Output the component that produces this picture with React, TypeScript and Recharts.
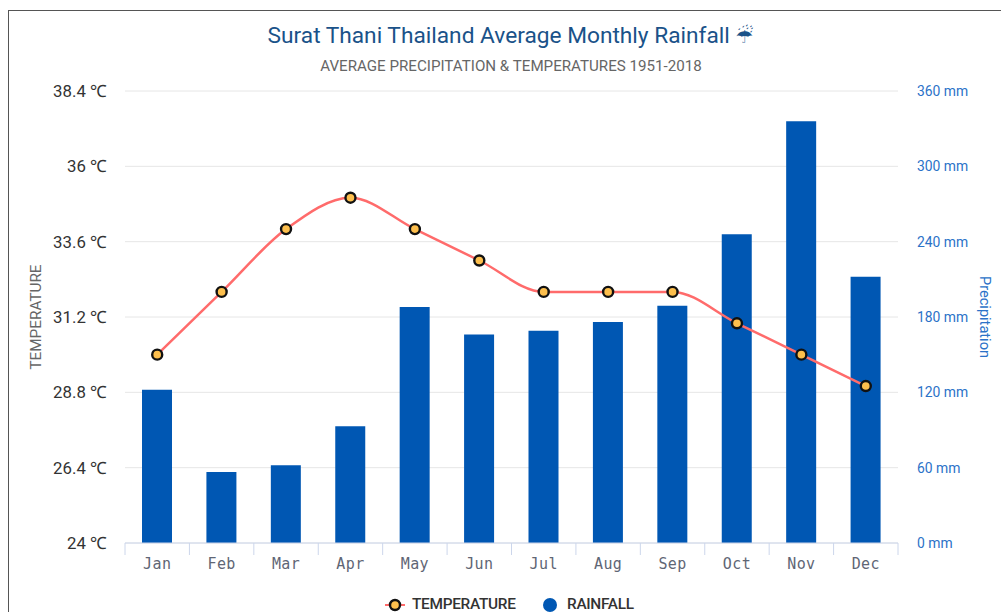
import React from 'react';
import { ComposedChart, Bar, Line, XAxis, YAxis, CartesianGrid } from 'recharts';

const months = ['Jan', 'Feb', 'Mar', 'Apr', 'May', 'Jun', 'Jul', 'Aug', 'Sep', 'Oct', 'Nov', 'Dec'];
const temperature = [30, 32, 34, 35, 34, 33, 32, 32, 32, 31, 30, 29];
const rainfall = [122, 56.5, 62, 93, 188, 166, 169, 176, 189, 246, 336, 212];
const tempTicks = [24, 26.4, 28.8, 31.2, 33.6, 36, 38.4];
const rainTicks = [0, 60, 120, 180, 240, 300, 360];

const data = months.map((month, i) => ({ month, temperature: temperature[i], rainfall: rainfall[i] }));

const BAND = 773 / 12;

// ticks sit on the band edges, not under the month label
const MonthTick = (props: any) => {
  const { x, index, payload } = props;
  const left = x - BAND / 2;
  return (
    <g>
      <line x1={left} x2={left} y1={543} y2={555} stroke="#ccd6eb" />
      {index === months.length - 1 && <line x1={left + BAND} x2={left + BAND} y1={543} y2={555} stroke="#ccd6eb" />}
      <text x={x} y={569} textAnchor="middle" fontFamily="'DejaVu Sans Mono'" fontSize={15} letterSpacing={0.4} fill="#5f6675">
        {payload.value}
      </text>
    </g>
  );
};

const LegendRow = () => (
  <div style={{ position: 'absolute', left: 0, top: 596, width: 1001, height: 16, fontFamily: 'Roboto', fontWeight: 500, fontSize: 15.4, lineHeight: '15px', color: '#333' }}>
    <svg width={30} height={16} style={{ position: 'absolute', left: 382, top: 0 }}>
      <line x1={3} x2={23} y1={9} y2={9} stroke="#ff6b6b" strokeWidth={2} />
      <circle cx={13} cy={9} r={5} fill="#fdbf4d" stroke="#111" strokeWidth={2.4} />
    </svg>
    <span style={{ position: 'absolute', left: 412, top: 1, letterSpacing: -0.3 }}>TEMPERATURE</span>
    <svg width={20} height={16} style={{ position: 'absolute', left: 541, top: 0 }}>
      <circle cx={9} cy={9} r={7} fill="#0057b3" />
    </svg>
    <span style={{ position: 'absolute', left: 567, top: 1, letterSpacing: -0.3 }}>RAINFALL</span>
  </div>
);

export default function App() {
  return (
    <div style={{ position: 'absolute', left: 0, top: 0, width: 1001, height: 612, overflow: 'hidden', background: '#fff' }}>
      {/* frame of the original page, only top and left show */}
      <div style={{ position: 'absolute', left: 8, top: 10, width: 1001, height: 612, borderTop: '1px solid #555', borderLeft: '1px solid #555' }} />
      <div style={{ position: 'absolute', left: 0, width: 1021, top: 22, textAlign: 'center', fontFamily: 'Roboto', fontSize: 22.7, color: '#1a5289', whiteSpace: 'nowrap' }}>
        Surat Thani Thailand Average Monthly Rainfall <span style={{ fontFamily: 'DejaVu Sans', fontSize: 20 }}>☔</span>
      </div>
      <div style={{ position: 'absolute', left: 0, width: 1022, top: 56.5, textAlign: 'center', fontFamily: 'Roboto', fontSize: 15.15, color: '#666', whiteSpace: 'nowrap' }}>
        AVERAGE PRECIPITATION &amp; TEMPERATURES 1951-2018
      </div>
      <ComposedChart width={1001} height={612} data={data} margin={{ top: 91, right: 0, bottom: 0, left: 0 }} style={{ position: 'absolute', left: 0, top: 0 }}>
        <CartesianGrid yAxisId="temp" vertical={false} stroke="#e6e6e6" />
        <XAxis dataKey="month" height={69} interval={0} tick={<MonthTick />} tickLine={false} axisLine={{ stroke: '#ccd6eb' }} />
        <YAxis
          yAxisId="temp"
          orientation="left"
          width={125}
          domain={[24, 38.4]}
          ticks={tempTicks}
          interval={0}
          axisLine={false}
          tickLine={false}
          tickMargin={12}
          tickFormatter={(v) => `${v} ℃`}
          tick={{ fontFamily: 'Roboto', fontSize: 16.8, fill: '#333' }}
          label={{ value: 'TEMPERATURE', angle: -90, position: 'insideLeft', offset: 36, style: { fontFamily: 'Roboto', fontSize: 15.3, fill: '#666', textAnchor: 'middle' } }}
        />
        <YAxis
          yAxisId="rain"
          orientation="right"
          width={103}
          domain={[0, 360]}
          ticks={rainTicks}
          interval={0}
          axisLine={false}
          tickLine={false}
          tickMargin={13}
          tickFormatter={(v) => `${v} mm`}
          tick={{ fontFamily: 'Roboto', fontSize: 13.9, fill: '#2b72c8' }}
          label={{ value: 'Precipitation', angle: 90, position: 'insideRight', offset: 16, style: { fontFamily: 'Roboto', fontSize: 14.6, fill: '#2b72c8', textAnchor: 'middle' } }}
        />
        <Bar yAxisId="rain" dataKey="rainfall" name="RAINFALL" fill="#0057b3" barSize={30} isAnimationActive={false} />
        <Line
          yAxisId="temp"
          type="monotone"
          dataKey="temperature"
          name="TEMPERATURE"
          stroke="#ff6b6b"
          strokeWidth={2.5}
          dot={{ r: 5, fill: '#fdbf4d', stroke: '#111', strokeWidth: 2.4 }}
          isAnimationActive={false}
        />
      </ComposedChart>
      <LegendRow />
    </div>
  );
}
